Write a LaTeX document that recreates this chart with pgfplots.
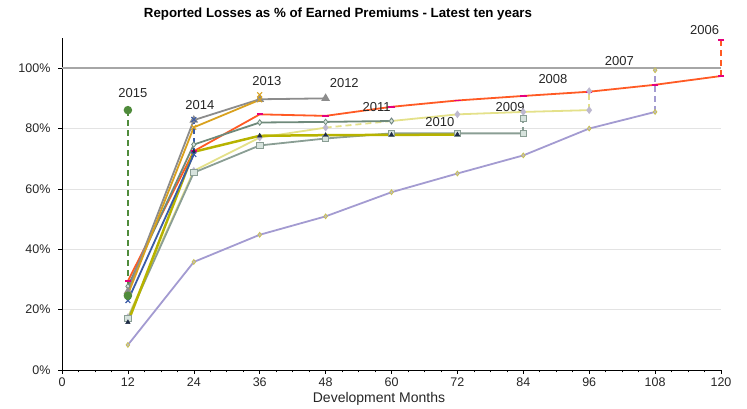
\documentclass[border=0pt]{standalone}
\usepackage{fontspec}
\setmainfont{Liberation Sans}
\usepackage{pgfplots}
\pgfplotsset{compat=1.18}

\definecolor{c06}{HTML}{FF5A24}
\definecolor{m06}{HTML}{E5007D}
\definecolor{c07}{HTML}{A39BD1}
\definecolor{m07}{HTML}{C9C154}
\definecolor{c08}{HTML}{E4E18A}
\definecolor{m08}{HTML}{BDB8CF}
\definecolor{c09}{HTML}{8A9E94}
\definecolor{m09}{HTML}{D7E3DD}
\definecolor{c10}{HTML}{B7B300}
\definecolor{m10}{HTML}{1E2B45}
\definecolor{c11}{HTML}{6F8A7B}
\definecolor{m11}{HTML}{DDE6E2}
\definecolor{c12}{HTML}{8C8C8C}
\definecolor{c13}{HTML}{D9A11E}
\definecolor{c14}{HTML}{3A5BA6}
\definecolor{c15}{HTML}{4F8B3B}
\definecolor{refline}{HTML}{A6A6A6}
\definecolor{gridc}{HTML}{E3E3E3}

\begin{document}
\begin{tikzpicture}
\useasboundingbox (0,0) rectangle (747pt,409pt);
\begin{axis}[
  at={(62pt,39pt)}, anchor=south west,
  scale only axis, width=659pt, height=332pt,
  xmin=0, xmax=120, ymin=0, ymax=110,
  axis x line*=bottom, axis y line*=left,
  xtick={0,12,...,120}, minor x tick num=3,
  ytick={0,20,...,100},
  yticklabel={\pgfmathprintnumber{\tick}\%},
  yticklabel shift=4pt,
  ymajorgrids, grid style={gridc, line width=0.8pt},
  tick align=outside, major tick length=4pt, minor tick length=2.5pt,
  tick style={black, line width=0.6pt},
  axis line style={black, line width=0.8pt},
  tick label style={font=\fontsize{12.5}{14}\selectfont, text=black!85},
  /pgf/number format/assume math mode=true,
  clip=false,
  every axis plot/.append style={line width=1.8pt},
  ultdash/.style={dash pattern=on 6pt off 4pt},
]
% reference line at 100%
\addplot[refline, line width=2.2pt, no marks] coordinates {(0,100) (120,100)};

% accident year 2006
\addplot[c06, mark=-, mark size=3.2pt, mark options={m06, solid, line width=1.8pt}]
  coordinates {(12,29.5) (24,72.5) (36,84.7) (48,84.2) (60,87.2) (72,89.3) (84,90.8) (96,92.2) (108,94.5) (120,97.4)};
\addplot[c06, ultdash, mark=-, mark size=3.2pt, mark indices={2}, mark options={m06, solid, line width=1.8pt}]
  coordinates {(120,97.4) (120,109.4)};

% accident year 2007
\addplot[c07, mark=diamond*, mark size=2.4pt, mark options={fill=m08, draw=m07, line width=0.8pt}]
  coordinates {(12,8.3) (24,35.8) (36,44.8) (48,50.9) (60,58.9) (72,65.1) (84,71.1) (96,80) (108,85.5)};
\addplot[c07, ultdash, mark=diamond*, mark size=2.4pt, mark indices={2}, mark options={solid, fill=m08, draw=m07, line width=0.8pt}]
  coordinates {(108,85.5) (108,99.3)};

% accident year 2008
\addplot[c08, mark=diamond*, mark size=2.4pt, mark options={fill=m08, draw=m08}]
  coordinates {(12,17.5) (24,66) (36,77) (48,80.3)};
\addplot[c08, ultdash, no marks] coordinates {(48,80.3) (60,82.5)};
\addplot[c08, mark=diamond*, mark size=2.4pt, mark options={fill=m08, draw=m08}]
  coordinates {(60,82.5) (72,84.7) (84,85.5) (96,86.1)};
\addplot[c08, ultdash, mark=diamond*, mark size=2.4pt, mark indices={2}, mark options={solid, fill=m08, draw=m08}]
  coordinates {(96,86.1) (96,92.4)};

% accident year 2009
\addplot[c09, mark=square*, mark size=3.2pt, mark options={fill=m09, draw=c09, line width=0.8pt}]
  coordinates {(12,17) (24,65.4) (36,74.4) (48,76.7) (60,78.4) (72,78.4) (84,78.4)};
\addplot[c09, ultdash, mark=square*, mark size=3.2pt, mark indices={2}, mark options={solid, fill=m09, draw=c09, line width=0.8pt}]
  coordinates {(84,78.4) (84,83.3)};

% accident year 2010
\addplot[c10, line width=2.5pt, mark=triangle*, mark size=2.6pt, mark options={fill=m10, draw=m10, line width=0.4pt}]
  coordinates {(12,15.8) (24,72.3) (36,77.6) (48,77.8) (60,77.9) (72,78)};

% accident year 2011
\addplot[c11, mark=diamond*, mark size=2.8pt, mark options={fill=m11, draw=c11, line width=0.8pt}]
  coordinates {(12,27.7) (24,74.7) (36,82) (48,82.2) (60,82.5)};

% accident year 2012
\addplot[c12, mark=triangle*, mark size=3.3pt, mark options={fill=c12, draw=c12}]
  coordinates {(12,26) (24,82.8) (36,89.7) (48,90)};

% accident year 2013
\addplot[c13, mark=x, mark size=3.4pt, mark options={c13, line width=1.1pt}]
  coordinates {(12,25) (24,80.4) (36,89.5)};
\addplot[c13, ultdash, mark=x, mark size=3.4pt, mark indices={2}, mark options={solid, c13, line width=1.1pt}]
  coordinates {(36,89.5) (36,91.2)};

% accident year 2014
\addplot[c14, mark=x, mark size=3.4pt, mark options={c14, line width=1.1pt}]
  coordinates {(12,23) (24,71.4)};
\addplot[c14, ultdash, mark=x, mark size=3.4pt, mark indices={2}, mark options={solid, c14, line width=1.1pt}]
  coordinates {(24,71.4) (24,83)};

% accident year 2015
\addplot[c15, mark=*, mark size=3.3pt, mark options={fill=c15, draw=c15}]
  coordinates {(12,24.6)};
\addplot[c15, ultdash, mark=*, mark size=3.3pt, mark indices={2}, mark options={solid, fill=c15, draw=c15}]
  coordinates {(12,24.6) (12,86.1)};

% year labels
\begin{scope}[every node/.style={font=\fontsize{13}{15}\selectfont, text=black!85}]
\node at (axis cs:12.9,91.9) {2015};
\node at (axis cs:25.1,87.7) {2014};
\node at (axis cs:37.3,95.8) {2013};
\node at (axis cs:51.4,95.0) {2012};
\node at (axis cs:57.3,87.2) {2011};
\node at (axis cs:68.8,82.2) {2010};
\node at (axis cs:81.6,87.0) {2009};
\node at (axis cs:89.4,96.3) {2008};
\node at (axis cs:101.5,102.4) {2007};
\node at (axis cs:117.0,112.6) {2006};
\end{scope}
\end{axis}
\node[font=\bfseries\fontsize{13.3}{15}\selectfont] at (338pt,395pt)
  {Reported Losses as \% of Earned Premiums - Latest ten years};
\node[font=\fontsize{14}{16}\selectfont, text=black!85] at (379pt,10pt) {Development Months};
\end{tikzpicture}
\end{document}
